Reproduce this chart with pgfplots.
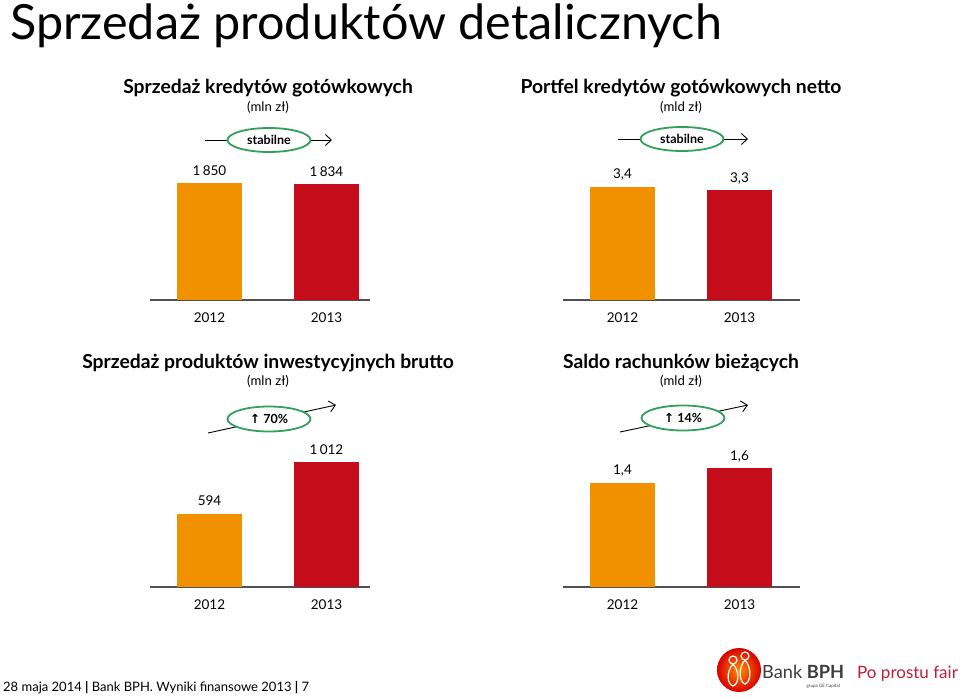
\documentclass[border=0pt]{standalone}
\usepackage{fontspec}
\setmainfont{Lato}
\newfontfamily\dejavu{DejaVu Sans}
\usepackage{pgfplots}
\pgfplotsset{compat=1.18}
\usetikzlibrary{arrows.meta}
\definecolor{barO}{RGB}{241,145,0}
\definecolor{barR}{RGB}{196,12,26}
\definecolor{ellG}{RGB}{50,160,90}
\definecolor{axg}{RGB}{80,80,80}
\definecolor{fairred}{RGB}{190,30,60}
\definecolor{bphgray}{RGB}{60,60,60}
\pgfplotsset{
  panel/.style={
    scale only axis, anchor=south west, height=150pt, ymin=0,
    axis x line*=bottom, axis y line=none,
    axis line style={draw=axg, line width=1.4pt},
    xtick={0,1}, xticklabels={2012,2013}, major tick length=0pt,
    xticklabel style={anchor=base, yshift=-22pt, font=\fontsize{13.5}{15}\selectfont},
    clip=false,
    nodes near coords, point meta=explicit symbolic,
    every node near coord/.append style={anchor=base, yshift=8pt, font=\fontsize{13.5}{15}\selectfont, black},
  },
  pbar/.style={ybar, bar shift=0pt, bar width=65pt, draw=none, fill=#1},
}
\begin{document}
\begin{tikzpicture}
% Panel 1
\begin{axis}[panel, at={(150pt,-300pt)}, width=220pt, xmin=-0.5085, xmax=1.3718, ymax=2372]
\addplot[pbar=barO] coordinates {(0,1850) [1\,850]};
\addplot[pbar=barR] coordinates {(1,1834) [1\,834]};
\end{axis}
% Panel 2
\begin{axis}[panel, at={(563pt,-300pt)}, width=237pt, xmin=-0.5085, xmax=1.517, ymax=4.5]
\addplot[pbar=barO] coordinates {(0,3.4) [3,4]};
\addplot[pbar=barR] coordinates {(1,3.3) [3,3]};
\end{axis}
% Panel 3
\begin{axis}[panel, at={(150pt,-587pt)}, width=220pt, xmin=-0.5085, xmax=1.3718, ymax=1215]
\addplot[pbar=barO] coordinates {(0,594) [594]};
\addplot[pbar=barR] coordinates {(1,1012) [1\,012]};
\end{axis}
% Panel 4
\begin{axis}[panel, at={(563pt,-587pt)}, width=237pt, xmin=-0.5085, xmax=1.517, ymax=2.0175]
\addplot[pbar=barO] coordinates {(0,1.4) [1,4]};
\addplot[pbar=barR] coordinates {(1,1.6) [1,6]};
\end{axis}
\begin{scope}[x=1pt,y=-1pt]
\node[anchor=base west, inner sep=0pt, font=\fontsize{48.5}{54}\selectfont] at (10,40) {Sprzedaż produktów detalicznych};
% panel titles
\node[anchor=base, inner sep=0pt, font=\fontsize{19.3}{22}\selectfont\bfseries] at (268,94) {Sprzedaż kredytów gotówkowych};
\node[anchor=base, inner sep=0pt, font=\fontsize{13.2}{15}\selectfont] at (268,111) {(mln zł)};
\node[anchor=base, inner sep=0pt, font=\fontsize{19.3}{22}\selectfont\bfseries] at (681,94) {Portfel kredytów gotówkowych netto};
\node[anchor=base, inner sep=0pt, font=\fontsize{13.2}{15}\selectfont] at (681,111) {(mld zł)};
\node[anchor=base, inner sep=0pt, font=\fontsize{19.3}{22}\selectfont\bfseries] at (268,368) {Sprzedaż produktów inwestycyjnych brutto};
\node[anchor=base, inner sep=0pt, font=\fontsize{13.2}{15}\selectfont] at (268,385) {(mln zł)};
\node[anchor=base, inner sep=0pt, font=\fontsize{19.3}{22}\selectfont\bfseries] at (681,368) {Saldo rachunków bieżących};
\node[anchor=base, inner sep=0pt, font=\fontsize{13.2}{15}\selectfont] at (681,385) {(mld zł)};
% arrows and ellipses
\draw[line width=0.9pt, -{Straight Barb[length=6pt,width=11pt]}] (205,140) -- (332,140);
\draw[ellG, line width=1.8pt, fill=white] (269,140) ellipse [x radius=41.5, y radius=12];
\node[font=\fontsize{12.5}{14}\selectfont\bfseries] at (269,140) {stabilne};
\draw[line width=0.9pt, -{Straight Barb[length=6pt,width=11pt]}] (618,139) -- (748,139);
\draw[ellG, line width=1.8pt, fill=white] (682,139) ellipse [x radius=41.5, y radius=12];
\node[font=\fontsize{12.5}{14}\selectfont\bfseries] at (682,139) {stabilne};
\draw[line width=0.9pt, -{Straight Barb[length=6pt,width=11pt]}] (208,433) -- (336,405);
\draw[ellG, line width=1.8pt, fill=white] (269,419) ellipse [x radius=41.5, y radius=12.5];
\node[font=\fontsize{12.5}{14}\selectfont\bfseries] at (269,419) {{\dejavu\bfseries ↑} 70\%};
\draw[line width=0.9pt, -{Straight Barb[length=6pt,width=11pt]}] (620,432) -- (748,405);
\draw[ellG, line width=1.8pt, fill=white] (683,418) ellipse [x radius=41.5, y radius=12.5];
\node[font=\fontsize{12.5}{14}\selectfont\bfseries] at (683,418) {{\dejavu\bfseries ↑} 14\%};
% footer
\node[anchor=base west, inner sep=0pt, font=\fontsize{13}{15}\selectfont] at (3,691) {28 maja 2014 \textbf{|} Bank BPH. Wyniki finansowe 2013 \textbf{|} 7};
% logo
\shade[inner color=orange!90!yellow, outer color=red!85!black] (739,670) circle (22);
\draw[white, line width=1.2pt] (733,660) circle (4) (733,664) .. controls (726,672) and (727,684) .. (733,686) .. controls (739,684) and (740,672) .. (733,664);
\draw[white, line width=1.2pt] (745,656) circle (4) (745,660) .. controls (738,668) and (739,682) .. (745,684) .. controls (751,682) and (752,668) .. (745,660);
\node[anchor=base west, inner sep=0pt, text=bphgray, font=\fontsize{18.2}{20}\selectfont] at (762,678) {Bank \textbf{BPH}};
\node[anchor=base east, inner sep=0pt, text=bphgray, font=\fontsize{4.5}{5}\selectfont] at (840,687) {grupa GE Capital};
\node[anchor=base west, inner sep=0pt, text=fairred, font=\fontsize{17}{19}\selectfont] at (857,678) {Po prostu fair};
\end{scope}
\pgfresetboundingbox
\path[use as bounding box] (0pt,0pt) rectangle (960pt,-698pt);
\end{tikzpicture}
\end{document}
